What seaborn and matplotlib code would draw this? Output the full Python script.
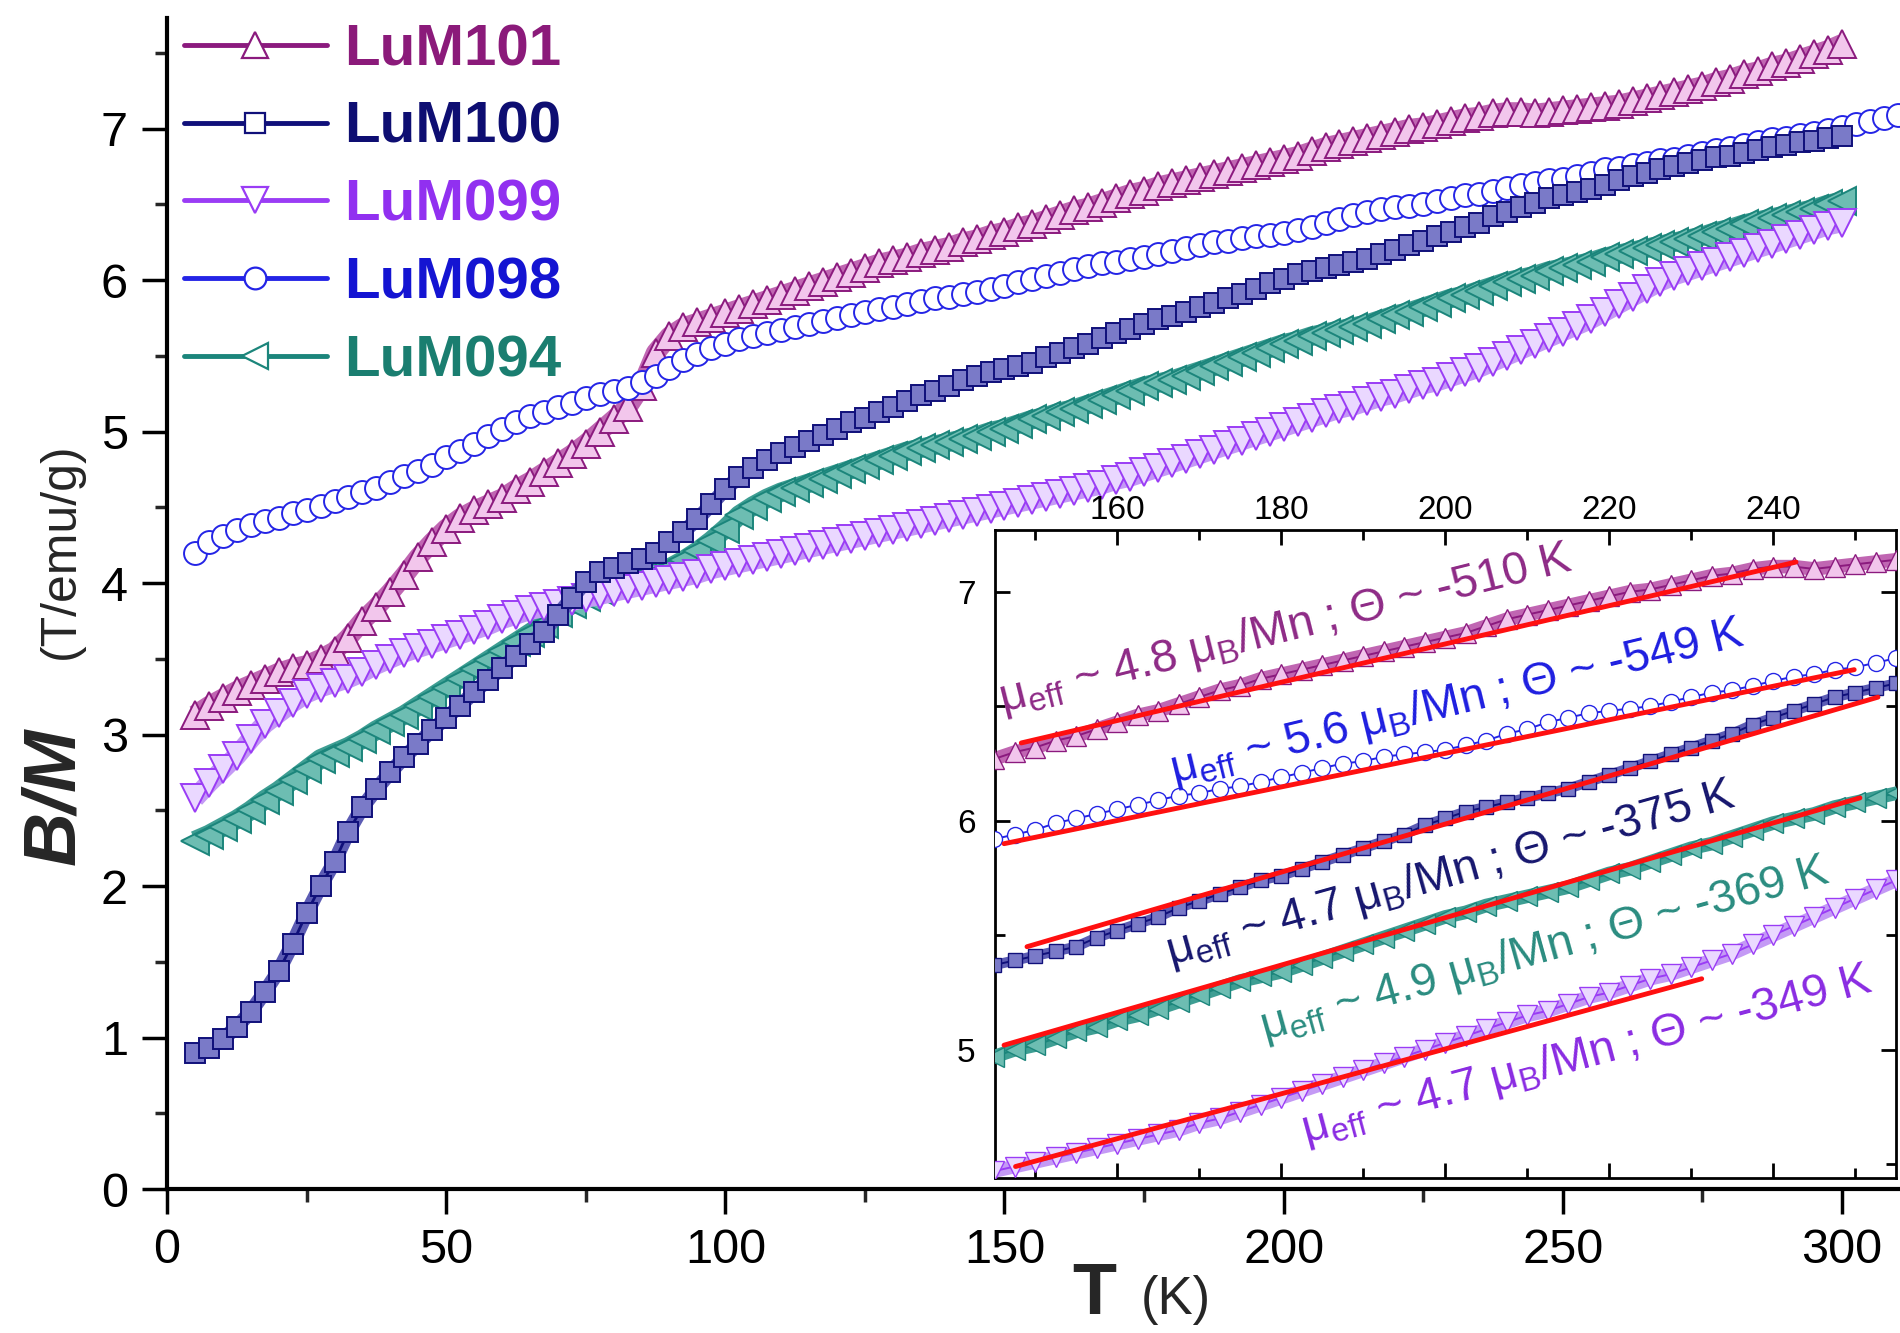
import numpy as np
import pandas as pd
import matplotlib
matplotlib.use('Agg')
import matplotlib.pyplot as plt
import seaborn as sns
from matplotlib.lines import Line2D
from matplotlib.ticker import MultipleLocator

sns.set_theme(style='white')
plt.rcParams['font.family'] = ['Liberation Sans', 'DejaVu Sans']
plt.rcParams['mathtext.fontset'] = 'custom'
plt.rcParams['mathtext.rm'] = 'Liberation Sans'
plt.rcParams['mathtext.it'] = 'Liberation Sans:italic'
plt.rcParams['mathtext.bf'] = 'Liberation Sans:bold'

# ---------------- data ----------------
T = [5, 7.5, 10, 12.5, 15, 17.5, 20, 22.5, 25, 27.5, 30, 32.5,
     35, 37.5, 40, 42.5, 45, 47.5, 50, 52.5, 55, 57.5, 60, 62.5,
     65, 67.5, 70, 72.5, 75, 77.5, 80, 82.5, 85, 87.5, 90, 92.5,
     95, 97.5, 100, 102.5, 105, 107.5, 110, 112.5, 115, 117.5, 120, 122.5,
     125, 127.5, 130, 132.5, 135, 137.5, 140, 142.5, 145, 147.5, 150, 152.5,
     155, 157.5, 160, 162.5, 165, 167.5, 170, 172.5, 175, 177.5, 180, 182.5,
     185, 187.5, 190, 192.5, 195, 197.5, 200, 202.5, 205, 207.5, 210, 212.5,
     215, 217.5, 220, 222.5, 225, 227.5, 230, 232.5, 235, 237.5, 240, 242.5,
     245, 247.5, 250, 252.5, 255, 257.5, 260, 262.5, 265, 267.5, 270, 272.5,
     275, 277.5, 280, 282.5, 285, 287.5, 290, 292.5, 295, 297.5, 300]
T_LuM098 = T + [302.5, 305, 307.5, 310]

LuM101 = [3.13, 3.19, 3.24, 3.29, 3.33, 3.37, 3.41, 3.44, 3.46, 3.50, 3.55, 3.64,
          3.75, 3.84, 3.94, 4.05, 4.17, 4.27, 4.36, 4.43, 4.48, 4.52, 4.56, 4.62,
          4.67, 4.73, 4.79, 4.85, 4.92, 5.00, 5.08, 5.16, 5.30, 5.52, 5.63, 5.69,
          5.72, 5.75, 5.78, 5.81, 5.84, 5.87, 5.90, 5.93, 5.96, 5.99, 6.02, 6.05,
          6.08, 6.11, 6.13, 6.15, 6.18, 6.20, 6.22, 6.25, 6.27, 6.30, 6.32, 6.35,
          6.37, 6.40, 6.43, 6.46, 6.48, 6.51, 6.54, 6.57, 6.59, 6.62, 6.64, 6.66,
          6.68, 6.70, 6.72, 6.74, 6.76, 6.78, 6.80, 6.82, 6.85, 6.88, 6.90, 6.92,
          6.94, 6.96, 6.98, 7.00, 7.01, 7.03, 7.05, 7.07, 7.08, 7.10, 7.11, 7.11,
          7.10, 7.11, 7.12, 7.13, 7.14, 7.15, 7.16, 7.18, 7.20, 7.22, 7.24, 7.26,
          7.28, 7.31, 7.33, 7.36, 7.38, 7.41, 7.43, 7.46, 7.49, 7.52, 7.56]

LuM100 = [0.90, 0.93, 0.99, 1.07, 1.17, 1.30, 1.44, 1.62, 1.82, 2.00, 2.16, 2.36,
          2.52, 2.64, 2.75, 2.85, 2.94, 3.03, 3.11, 3.19, 3.28, 3.36, 3.44, 3.52,
          3.60, 3.68, 3.79, 3.90, 4.01, 4.07, 4.10, 4.13, 4.16, 4.20, 4.27, 4.34,
          4.42, 4.52, 4.62, 4.70, 4.76, 4.81, 4.86, 4.90, 4.94, 4.98, 5.02, 5.06,
          5.09, 5.13, 5.16, 5.20, 5.24, 5.27, 5.30, 5.34, 5.37, 5.39, 5.41, 5.43,
          5.45, 5.49, 5.52, 5.55, 5.58, 5.62, 5.65, 5.68, 5.71, 5.74, 5.76, 5.79,
          5.82, 5.85, 5.88, 5.91, 5.94, 5.98, 6.01, 6.04, 6.06, 6.08, 6.10, 6.12,
          6.14, 6.17, 6.20, 6.23, 6.26, 6.29, 6.32, 6.35, 6.38, 6.42, 6.45, 6.48,
          6.51, 6.54, 6.56, 6.58, 6.60, 6.63, 6.66, 6.69, 6.71, 6.73, 6.75, 6.77,
          6.79, 6.81, 6.82, 6.84, 6.86, 6.88, 6.89, 6.91, 6.92, 6.94, 6.95]

LuM099 = [2.58, 2.68, 2.77, 2.86, 2.97, 3.07, 3.14, 3.21, 3.27, 3.31, 3.34, 3.37,
          3.41, 3.46, 3.50, 3.54, 3.57, 3.60, 3.63, 3.66, 3.69, 3.72, 3.76, 3.79,
          3.82, 3.84, 3.86, 3.88, 3.90, 3.92, 3.94, 3.96, 3.98, 4.00, 4.02, 4.04,
          4.06, 4.09, 4.11, 4.13, 4.15, 4.17, 4.19, 4.21, 4.23, 4.25, 4.27, 4.29,
          4.31, 4.33, 4.35, 4.37, 4.39, 4.41, 4.43, 4.45, 4.47, 4.49, 4.51, 4.53,
          4.55, 4.57, 4.59, 4.61, 4.63, 4.65, 4.68, 4.70, 4.73, 4.76, 4.79, 4.82,
          4.85, 4.88, 4.91, 4.94, 4.97, 5.00, 5.03, 5.06, 5.09, 5.12, 5.15, 5.17,
          5.20, 5.23, 5.25, 5.28, 5.31, 5.33, 5.36, 5.39, 5.42, 5.46, 5.50, 5.54,
          5.58, 5.62, 5.66, 5.70, 5.74, 5.79, 5.84, 5.89, 5.94, 5.99, 6.03, 6.06,
          6.09, 6.12, 6.15, 6.18, 6.21, 6.24, 6.27, 6.30, 6.33, 6.36, 6.38]

LuM098 = [4.20, 4.27, 4.31, 4.35, 4.38, 4.41, 4.43, 4.46, 4.48, 4.51, 4.54, 4.57,
          4.60, 4.63, 4.67, 4.71, 4.74, 4.78, 4.83, 4.87, 4.92, 4.97, 5.02, 5.06,
          5.10, 5.13, 5.16, 5.19, 5.22, 5.25, 5.27, 5.29, 5.33, 5.37, 5.42, 5.47,
          5.51, 5.55, 5.58, 5.61, 5.63, 5.65, 5.67, 5.69, 5.71, 5.73, 5.75, 5.77,
          5.79, 5.81, 5.82, 5.84, 5.86, 5.88, 5.89, 5.91, 5.92, 5.94, 5.96, 5.99,
          6.01, 6.03, 6.05, 6.07, 6.09, 6.11, 6.12, 6.14, 6.15, 6.17, 6.19, 6.21,
          6.23, 6.25, 6.26, 6.28, 6.29, 6.30, 6.31, 6.33, 6.35, 6.38, 6.40, 6.43,
          6.45, 6.47, 6.48, 6.49, 6.50, 6.52, 6.54, 6.56, 6.57, 6.59, 6.61, 6.63,
          6.64, 6.66, 6.67, 6.69, 6.71, 6.73, 6.74, 6.76, 6.77, 6.79, 6.80, 6.82,
          6.84, 6.86, 6.87, 6.89, 6.91, 6.93, 6.94, 6.96, 6.97, 6.99, 7.01,
          7.03, 7.05, 7.07, 7.09]

LuM094 = [2.30, 2.34, 2.39, 2.44, 2.50, 2.57, 2.63, 2.70, 2.77, 2.84, 2.88, 2.92,
          2.97, 3.03, 3.08, 3.13, 3.19, 3.25, 3.31, 3.37, 3.43, 3.49, 3.55, 3.61,
          3.67, 3.73, 3.80, 3.86, 3.91, 3.95, 3.99, 4.02, 4.04, 4.06, 4.10, 4.15,
          4.21, 4.28, 4.36, 4.45, 4.51, 4.56, 4.60, 4.63, 4.66, 4.69, 4.72, 4.75,
          4.78, 4.81, 4.84, 4.87, 4.89, 4.91, 4.93, 4.95, 4.97, 5.00, 5.02, 5.05,
          5.08, 5.10, 5.13, 5.15, 5.18, 5.21, 5.24, 5.27, 5.30, 5.32, 5.34, 5.37,
          5.40, 5.43, 5.46, 5.49, 5.52, 5.55, 5.58, 5.60, 5.63, 5.65, 5.67, 5.69,
          5.71, 5.74, 5.77, 5.79, 5.82, 5.85, 5.88, 5.90, 5.93, 5.96, 5.99, 6.01,
          6.03, 6.06, 6.08, 6.10, 6.12, 6.15, 6.17, 6.19, 6.21, 6.23, 6.25, 6.27,
          6.29, 6.32, 6.34, 6.37, 6.39, 6.41, 6.43, 6.45, 6.47, 6.50, 6.52]

# linear Curie-Weiss fits shown in the inset (end points)
fit_T = {'LuM101': [148.3, 242.8], 'LuM098': [146.2, 249.9], 'LuM100': [149.0, 252.8],
         'LuM094': [146.2, 250.6], 'LuM099': [147.6, 231.3]}
fit_v = {'LuM101': [6.34, 7.13], 'LuM098': [5.90, 6.66], 'LuM100': [5.45, 6.54],
         'LuM094': [5.02, 6.10], 'LuM099': [4.49, 5.31]}

labels_order = ['LuM101', 'LuM100', 'LuM099', 'LuM098', 'LuM094']
annotations = [
    ('μ$_{\\rm eff}$ ~ 4.8 μ$_{\\rm B}$/Mn ; Θ ~ -510 K', 180.5, 6.84, 14.0, '#8E2A86'),
    ('μ$_{\\rm eff}$ ~ 5.6 μ$_{\\rm B}$/Mn ; Θ ~ -549 K', 201.5, 6.52, 13.6, '#1E1EE0'),
    ('μ$_{\\rm eff}$ ~ 4.7 μ$_{\\rm B}$/Mn ; Θ ~ -375 K', 200.6, 5.77, 15.7, '#16166E'),
    ('μ$_{\\rm eff}$ ~ 4.9 μ$_{\\rm B}$/Mn ; Θ ~ -369 K', 212.2, 5.44, 15.6, '#2A8C80'),
    ('μ$_{\\rm eff}$ ~ 4.7 μ$_{\\rm B}$/Mn ; Θ ~ -349 K', 217.3, 4.98, 15.0, '#8A2BE2'),
]

# ---------------- styles ----------------
style = {
    'LuM101': dict(T=T, v=LuM101, marker='^', edge='#8B1A7E', face='#F2C6EC', band='#C066B2',
                   ms=20, z=3, text='#8B1A7A'),
    'LuM098': dict(T=T_LuM098, v=LuM098, marker='o', edge='#2424E6', face='#FFFFFF', band=None,
                   ms=16.5, z=4, text='#1414D2'),
    'LuM094': dict(T=T, v=LuM094, marker='<', edge='#1B857B', face='#6DBDB2', band='#3E9E93',
                   ms=20, z=5, text='#1A7E70'),
    'LuM099': dict(T=T, v=LuM099, marker='v', edge='#9A3CF5', face='#EAD8FF', band='#C49AF5',
                   ms=20, z=6, text='#9130F0'),
    'LuM100': dict(T=T, v=LuM100, marker='s', edge='#10107A', face='#7A7AC8', band='#5C5CB4',
                   ms=15, z=7, text='#0E0E72'),
}
draw_order = ['LuM101', 'LuM098', 'LuM094', 'LuM099', 'LuM100']

fig = plt.figure(figsize=(19, 13.33), dpi=100)
fig.patch.set_facecolor('white')
ax = fig.add_axes([0.0879, 0.108, 0.9121, 0.8785])
ax.set_facecolor('white')


def draw(axis, name, scale=1.0, tmin=None, tmax=None):
    st = style[name]
    n = min(len(st['T']), len(st['v']))
    df = pd.DataFrame({'T': st['T'][:n], 'v': st['v'][:n]})
    if tmin is not None:
        df = df[(df['T'] >= tmin) & (df['T'] <= tmax)]
    ms = st['ms'] * scale
    if st['band'] is not None:
        sns.lineplot(data=df, x='T', y='v', ax=axis, color=st['band'], linewidth=ms * 0.7,
                     estimator=None, sort=False, legend=False, zorder=st['z'] - 0.5,
                     solid_capstyle='butt', solid_joinstyle='round')
    sns.lineplot(data=df, x='T', y='v', ax=axis, color=st['edge'], linewidth=2 * scale,
                 marker=st['marker'], markersize=ms, markerfacecolor=st['face'],
                 markeredgecolor=st['edge'], markeredgewidth=1.4 * scale,
                 estimator=None, sort=False, legend=False, zorder=st['z'])


for name in draw_order:
    draw(ax, name)

ax.set_xlim(0, 310.4)
ax.set_ylim(0, 7.73)
ax.xaxis.set_major_locator(MultipleLocator(50))
ax.xaxis.set_minor_locator(MultipleLocator(25))
ax.yaxis.set_major_locator(MultipleLocator(1))
ax.yaxis.set_minor_locator(MultipleLocator(0.5))
ax.tick_params(which='major', direction='out', length=18, width=2.5, labelsize=35,
               pad=10, colors='black', bottom=True, left=True)
ax.tick_params(which='minor', direction='out', length=9, width=2.5, bottom=True, left=True)
for s in ['top', 'right']:
    ax.spines[s].set_visible(False)
for s in ['left', 'bottom']:
    ax.spines[s].set_linewidth(3)
    ax.spines[s].set_color('black')
ax.set_xlabel('')
ax.set_ylabel('')
ax.grid(False)

# axis titles
fig.text(0.029, 0.403, 'B/M', rotation=90, fontsize=54, fontweight='bold', fontstyle='italic',
         ha='center', va='center')
fig.text(0.032, 0.587, '(T/emu/g)', rotation=90, fontsize=36, ha='center', va='center')
fig.text(0.576, 0.014, 'T', fontsize=52, fontweight='bold', ha='center', va='baseline')
fig.text(0.619, 0.014, '(K)', fontsize=38, ha='center', va='baseline')

# legend
handles = []
for name in labels_order:
    st = style[name]
    handles.append(Line2D([], [], color=st['edge'], lw=3.5, marker=st['marker'],
                          markersize=st['ms'] * 0.95, markerfacecolor='white',
                          markeredgecolor=st['edge'], markeredgewidth=1.6))
leg = fig.legend(handles, labels_order, loc='upper left', bbox_to_anchor=(184 / 1900, 1 - 23 / 1333),
                 frameon=False, prop=dict(weight='bold', size=42), handlelength=2.45,
                 handletextpad=0.3, labelspacing=0.41, borderpad=0, borderaxespad=0)
for txt, name in zip(leg.get_texts(), labels_order):
    txt.set_color(style[name]['text'])

# ---------------- inset ----------------
axin = fig.add_axes([0.5237, 0.1163, 0.4742, 0.4861])
axin.set_facecolor('white')
axin.set_zorder(10)
for name in draw_order:
    draw(axin, name, scale=0.7, tmin=140, tmax=260)
for name in ['LuM101', 'LuM098', 'LuM100', 'LuM094', 'LuM099']:
    sns.lineplot(x=fit_T[name], y=fit_v[name], ax=axin, color='#FF1010', linewidth=3.5,
                 estimator=None, sort=False, legend=False, zorder=20)
for txt, x, y, rot, col in annotations:
    axin.text(x, y, txt, rotation=rot, rotation_mode='anchor', ha='center', va='center',
              color=col, fontsize=33.5, zorder=30)
axin.set_xlim(145.1, 255)
axin.set_ylim(4.44, 7.27)
axin.xaxis.set_major_locator(MultipleLocator(20))
axin.xaxis.set_minor_locator(MultipleLocator(10))
axin.yaxis.set_major_locator(MultipleLocator(1))
axin.yaxis.set_minor_locator(MultipleLocator(0.5))
axin.tick_params(which='both', direction='in', top=True, bottom=True, left=True, right=True,
                 labeltop=True, labelbottom=False, labelleft=True, labelright=False, colors='black')
axin.tick_params(which='major', length=11, width=2, labelsize=24)
axin.tick_params(axis='x', which='major', pad=3)
axin.tick_params(axis='y', which='major', pad=14)
axin.tick_params(which='minor', length=7, width=2)
for s in axin.spines.values():
    s.set_visible(True)
    s.set_linewidth(2)
    s.set_color('black')
axin.set_xlabel('')
axin.set_ylabel('')
axin.grid(False)

fig.savefig('out.png', dpi=100, facecolor='white')
